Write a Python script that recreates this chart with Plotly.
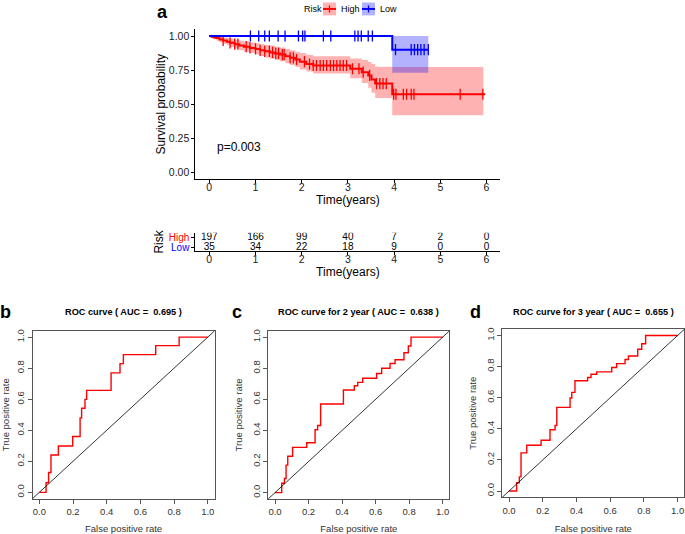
import numpy as np
import plotly.graph_objects as go

W, H = 685, 534
def PX(p): return p / W
def PY(p): return 1 - p / H

FONT = "Liberation Sans, Arial, Helvetica, sans-serif"

# ---------------- KM data ----------------
high_time = [0, 0.05, 0.10, 0.15, 0.22, 0.30, 0.38, 0.45, 0.55, 0.65, 0.75, 0.88, 1.00, 1.10, 1.20,
             1.31, 1.42, 1.53, 1.65, 1.75, 1.86, 1.96, 2.10, 2.25, 3.05, 3.30, 3.44, 3.51, 3.59, 3.96]
high_surv = [1.0, 0.995, 0.99, 0.985, 0.975, 0.967, 0.958, 0.95, 0.94, 0.93, 0.922, 0.913, 0.905, 0.895, 0.888,
             0.88, 0.872, 0.864, 0.852, 0.84, 0.828, 0.812, 0.795, 0.784, 0.76, 0.735, 0.711, 0.682, 0.651, 0.573]
high_upper = [1.0, 1.0, 1.0, 0.999, 0.995, 0.99, 0.985, 0.98, 0.973, 0.966, 0.96, 0.953, 0.947, 0.94, 0.935,
              0.93, 0.922, 0.915, 0.905, 0.895, 0.885, 0.875, 0.86, 0.852, 0.835, 0.825, 0.81, 0.795, 0.775, 0.772]
high_lower = [1.0, 0.985, 0.976, 0.968, 0.955, 0.943, 0.932, 0.92, 0.908, 0.895, 0.885, 0.875, 0.865, 0.853, 0.843,
              0.833, 0.824, 0.815, 0.80, 0.787, 0.773, 0.755, 0.74, 0.725, 0.69, 0.655, 0.62, 0.585, 0.545, 0.42]
high_end = 5.97
high_ci_end = 5.93
high_censor = [0.3, 0.45, 0.55, 0.62, 0.8, 0.88, 1.0, 1.1, 1.2, 1.3, 1.37, 1.44, 1.5, 1.58, 1.62, 1.75, 1.82,
               1.89, 2.06, 2.17, 2.25, 2.32, 2.4, 2.47, 2.54, 2.62, 2.69, 2.76, 2.83, 2.9, 2.97, 3.1, 3.24,
               3.33, 3.47, 3.62, 3.69, 3.76, 3.83, 3.99, 4.04, 4.2, 4.27, 4.37, 4.43, 5.43, 5.92]

low_time = [0, 3.96]
low_surv = [1.0, 0.90]
low_upper = [1.0, 1.0]
low_lower = [1.0, 0.73]
low_end = 4.74
low_censor = [0.89, 1.07, 1.2, 1.30, 1.49, 1.64, 1.93, 2.02, 2.07, 2.47, 2.63, 3.15, 3.22, 3.29, 3.44, 3.53,
              4.03, 4.37, 4.44, 4.51, 4.58, 4.65, 4.74]

risk_times = [0, 1, 2, 3, 4, 5, 6]
risk_high = [197, 166, 99, 40, 7, 2, 0]
risk_low = [35, 34, 22, 18, 9, 0, 0]

# ---------------- ROC data ----------------
roc_b_fpr = [0, 0.040, 0.055, 0.069, 0.113, 0.198, 0.242, 0.251, 0.271, 0.281, 0.426, 0.479, 0.499, 0.691, 0.830, 1.0]
roc_b_tpr = [0, 0.062, 0.128, 0.241, 0.299, 0.360, 0.480, 0.542, 0.599, 0.657, 0.770, 0.829, 0.887, 0.945, 1.0, 1.0]

roc_c_fpr = [0, 0.040, 0.056, 0.066, 0.076, 0.105, 0.189, 0.239, 0.254, 0.272, 0.408, 0.473, 0.493, 0.523,
             0.606, 0.636, 0.686, 0.716, 0.769, 0.795, 0.811, 1.0]
roc_c_tpr = [0, 0.060, 0.091, 0.177, 0.234, 0.291, 0.321, 0.404, 0.432, 0.570, 0.660, 0.687, 0.709, 0.736,
             0.766, 0.800, 0.830, 0.855, 0.900, 0.943, 1.0, 1.0]

roc_d_fpr = [0, 0.045, 0.061, 0.071, 0.105, 0.190, 0.243, 0.273, 0.283, 0.362, 0.372, 0.391, 0.466, 0.486,
             0.520, 0.609, 0.638, 0.688, 0.708, 0.763, 0.787, 0.810, 1.0]
roc_d_tpr = [0, 0.053, 0.091, 0.245, 0.294, 0.326, 0.394, 0.421, 0.538, 0.598, 0.634, 0.709, 0.730, 0.751,
             0.766, 0.794, 0.819, 0.845, 0.868, 0.911, 0.947, 1.0, 1.0]

roc_titles = ["ROC curve ( AUC =  0.695 )", "ROC curve for 2 year ( AUC =  0.638 )",
              "ROC curve for 3 year ( AUC =  0.655 )"]
panel_labels = ["a", "b", "c", "d"]

fig = go.Figure()

def step_val(times, vals, t):
    idx = np.searchsorted(np.array(times), np.array(t), side="right") - 1
    return list(np.array(vals)[idx])

def add_band(times, up, lo, end, color):
    xs = list(times) + [end]
    fig.add_trace(go.Scatter(x=xs, y=list(up) + [up[-1]], mode="lines", line=dict(width=0, shape="hv"),
                             showlegend=False, hoverinfo="skip", xaxis="x", yaxis="y"))
    fig.add_trace(go.Scatter(x=xs, y=list(lo) + [lo[-1]], mode="lines", line=dict(width=0, shape="hv"),
                             fill="tonexty", fillcolor=color, showlegend=False, hoverinfo="skip",
                             xaxis="x", yaxis="y"))

add_band(high_time, high_upper, high_lower, high_ci_end, "rgba(255,0,0,0.3)")
add_band(low_time, low_upper, low_lower, low_end, "rgba(0,0,255,0.3)")

for times, surv, end, cens, col in [(high_time, high_surv, high_end, high_censor, "#FF0000"),
                                     (low_time, low_surv, low_end, low_censor, "#0000FF")]:
    fig.add_trace(go.Scatter(x=list(times) + [end], y=list(surv) + [surv[-1]], mode="lines",
                             line=dict(color=col, width=2, shape="hv"), showlegend=False,
                             xaxis="x", yaxis="y"))
    fig.add_trace(go.Scatter(x=cens, y=step_val(times, surv, cens), mode="markers",
                             marker=dict(symbol="line-ns-open", size=8, color=col,
                                         line=dict(color=col, width=1.3)),
                             showlegend=False, xaxis="x", yaxis="y"))

# risk table
fig.add_trace(go.Scatter(x=risk_times, y=[2] * len(risk_times), text=[str(v) for v in risk_high],
                         mode="text", textfont=dict(size=10, color="black", family=FONT),
                         showlegend=False, xaxis="x2", yaxis="y2"))
fig.add_trace(go.Scatter(x=risk_times, y=[1] * len(risk_times), text=[str(v) for v in risk_low],
                         mode="text", textfont=dict(size=10, color="black", family=FONT),
                         showlegend=False, xaxis="x2", yaxis="y2"))

# ROC curves
for i, (fx, ty) in enumerate([(roc_b_fpr, roc_b_tpr), (roc_c_fpr, roc_c_tpr), (roc_d_fpr, roc_d_tpr)]):
    ax = str(i + 3)
    fig.add_trace(go.Scatter(x=fx, y=ty, mode="lines", line=dict(color="#FF0000", width=1.4, shape="hv"),
                             showlegend=False, xaxis="x" + ax, yaxis="y" + ax))
    fig.add_shape(type="line", xref="x%s domain" % ax, yref="y%s domain" % ax, x0=0, y0=0, x1=1, y1=1,
                  line=dict(color="black", width=0.8))

tickfont_km = dict(size=10.5, color="#222", family=FONT)
km_x = dict(range=[-0.3, 6.3], tickvals=risk_times, showline=True, linecolor="black", linewidth=1,
            ticks="outside", ticklen=3, tickcolor="black", showgrid=False, zeroline=False,
            tickfont=tickfont_km, ticklabelstandoff=-5)

layout = dict(
    width=W, height=H, margin=dict(l=0, r=0, t=0, b=0),
    paper_bgcolor="white", plot_bgcolor="white", font=dict(family=FONT),
    xaxis=dict(km_x, domain=[PX(195.4), PX(500.4)], anchor="y",
               title=dict(text="Time(years)", font=dict(size=12, color="black"), standoff=0)),
    yaxis=dict(range=[-0.05, 1.05], domain=[PY(178.6), PY(27.4)], anchor="x",
               tickvals=[0, 0.25, 0.5, 0.75, 1.0], tickformat=".2f", showline=True, linecolor="black",
               linewidth=1, ticks="outside", ticklen=3, tickcolor="black", showgrid=False, zeroline=False,
               tickfont=tickfont_km,
               title=dict(text="Survival probability", font=dict(size=12, color="black"), standoff=0)),
    xaxis2=dict(km_x, domain=[PX(195.4), PX(500.4)], anchor="y2",
                title=dict(text="Time(years)", font=dict(size=12, color="black"), standoff=0)),
    yaxis2=dict(range=[0.6, 2.45], domain=[PY(251), PY(232.5)], anchor="x2",
                tickvals=[1, 2],
                ticktext=["<span style='color:#0000FF'>Low</span>", "<span style='color:#FF0000'>High</span>"],
                showline=True, linecolor="black", linewidth=1, ticks="outside", ticklen=3,
                tickcolor="black", showgrid=False, zeroline=False, tickfont=dict(size=10, family=FONT),
                title=dict(text="Risk", font=dict(size=12, color="black"), standoff=2)),
)

roc_dom = [
    ([PX(32.6), PX(214.5)], [PY(500.3), PY(331.4)]),
    ([PX(268.3), PX(449.4)], [PY(500.6), PY(331.4)]),
    ([PX(502.3), PX(684.4)], [PY(499.0), PY(329.7)]),
]
for i, (dx, dy) in enumerate(roc_dom):
    ax = str(i + 3)
    common = dict(range=[-0.04, 1.04], tickvals=[0, 0.2, 0.4, 0.6, 0.8, 1.0], tickformat=".1f",
                  showline=True, mirror=True, linecolor="#555", linewidth=1, ticks="outside", ticklen=4,
                  tickcolor="#555", showgrid=False, zeroline=False,
                  tickfont=dict(size=9.5, color="#333", family=FONT))
    layout["xaxis" + ax] = dict(common, domain=dx, anchor="y" + ax,
                                title=dict(text="False positive rate", font=dict(size=9.5, color="#333"),
                                           standoff=10))
    layout["yaxis" + ax] = dict(common, domain=dy, anchor="x" + ax, tickangle=-90,
                                title=dict(text="True positive rate", font=dict(size=9.5, color="#333"),
                                           standoff=6))

fig.update_layout(**layout)

def A(text, x, y, size, xanchor="center", ref="paper"):
    return dict(text=text, x=x, y=y, xref=ref, yref=ref, xanchor=xanchor, yanchor="middle",
                showarrow=False, font=dict(size=size, color="black", family=FONT))

ann = []
for lab, (x, y) in zip(panel_labels, [(162, 10), (5, 312), (237, 312), (475, 312)]):
    ann.append(A("<b>%s</b>" % lab, PX(x), PY(y), 18))
for t, (x, y) in zip(roc_titles, [(123.5, 312), (358.9, 312), (593.4, 312)]):
    ann.append(A("<b>%s</b>" % t, PX(x), PY(y), 9.2))
ann.append(A("p=0.003", 0.12, 0.19, 12, xanchor="left", ref="x"))
ann[-1]["xref"] = "x"; ann[-1]["yref"] = "y"
ann.append(A("Risk", PX(302), PY(7), 9, xanchor="left"))
ann.append(A("High", PX(339), PY(7), 9, xanchor="left"))
ann.append(A("Low", PX(378), PY(7), 9, xanchor="left"))
fig.update_layout(annotations=ann)

for x0, x1, fc, lc in [(323, 336, "rgba(255,0,0,0.3)", "#FF0000"), (362, 375, "rgba(0,0,255,0.3)", "#0000FF")]:
    fig.add_shape(type="rect", xref="paper", yref="paper", x0=PX(x0), x1=PX(x1), y0=PY(13.5), y1=PY(0.5),
                  fillcolor=fc, line=dict(width=0), layer="above")
    fig.add_shape(type="line", xref="paper", yref="paper", x0=PX(x0), x1=PX(x1), y0=PY(7), y1=PY(7),
                  line=dict(color=lc, width=2))
    xm = (x0 + x1) / 2
    fig.add_shape(type="line", xref="paper", yref="paper", x0=PX(xm), x1=PX(xm), y0=PY(3.5), y1=PY(10.5),
                  line=dict(color=lc, width=1.3))

fig.write_html("out.html", config={"displayModeBar": False},
               post_script="document.body.style.margin='0';document.body.style.padding='0';")
